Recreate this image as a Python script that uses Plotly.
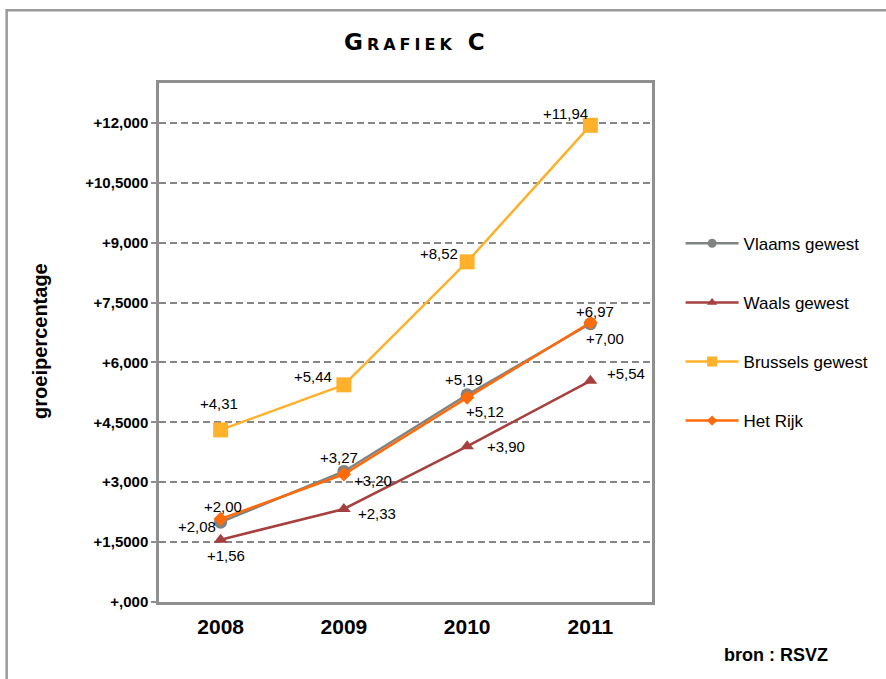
import plotly.graph_objects as go

years = ["2008", "2009", "2010", "2011"]
vlaams = [2.00, 3.27, 5.19, 6.97]
waals = [1.56, 2.33, 3.90, 5.54]
brussels = [4.31, 5.44, 8.52, 11.94]
rijk = [2.08, 3.20, 5.12, 7.00]

series_names = ["Vlaams gewest", "Waals gewest", "Brussels gewest", "Het Rijk"]
tick_vals = [0, 1.5, 3, 4.5, 6, 7.5, 9, 10.5, 12]
tick_text = ["+,000", "+1,5000", "+3,000", "+4,5000", "+6,000", "+7,5000", "+9,000", "+10,5000", "+12,000"]

FONT = "Arial, 'Liberation Sans', sans-serif"

styles = [
    dict(color="#7f8381", symbol="circle", size=13, legsize=9),
    dict(color="#a5403e", symbol="triangle-up", size=12, legsize=9),
    dict(color="#ffb12b", symbol="square", size=15, legsize=10),
    dict(color="#ff6a0a", symbol="diamond", size=11, legsize=8),
]
# label offsets (px) per point
offsets = [
    [(2, 16), (-5, 14), (-3, 15), (5, 12)],
    [(5, -16), (33, -5), (39, 0), (36, 7)],
    [(-2, 26), (-31, 8), (-28, 8), (-25, 12)],
    [(-24, -8), (29, -6), (18, -14), (15, -16)],
]

fig = go.Figure()
all_series = [vlaams, waals, brussels, rijk]
for name, vals, st in zip(series_names, all_series, styles):
    fig.add_trace(go.Scatter(
        x=years, y=vals, name=name, mode="lines+markers",
        line=dict(color=st["color"], width=2.5),
        marker=dict(color=st["color"], symbol=st["symbol"], size=st["size"]),
        legendgroup=name, showlegend=False,
    ))
# legend entries (smaller legend markers, as in the original)
for name, st in zip(series_names, styles):
    fig.add_trace(go.Scatter(
        x=[None], y=[None], name=name, mode="lines+markers",
        line=dict(color=st["color"], width=2.5),
        marker=dict(color=st["color"], symbol=st["symbol"], size=st["legsize"]),
        legendgroup=name, showlegend=True,
    ))

annotations = []
for vals, offs in zip(all_series, offsets):
    for i, (v, (dx, dy)) in enumerate(zip(vals, offs)):
        annotations.append(dict(
            x=i, y=v, xref="x", yref="y", showarrow=False,
            text=("+%.2f" % v).replace(".", ","),
            xshift=dx, yshift=dy,
            font=dict(family=FONT, size=15, color="#000"),
        ))

annotations += [
    dict(text='<span style="letter-spacing:4px">Grafiek C</span>', x=0.523, y=1.079,
         xref="paper", yref="paper", showarrow=False, xanchor="center", yanchor="middle",
         font=dict(family="'DejaVu Sans', sans-serif", size=23,
                   color="#000", weight="bold", variant="small-caps")),
    dict(text="groeipercentage", x=-0.2415, y=0.503, xref="paper", yref="paper",
         textangle=-90, showarrow=False, xanchor="center", yanchor="middle",
         font=dict(family=FONT, size=20, color="#000", weight="bold")),
    dict(text="bron : RSVZ", x=1.251, y=-0.102, xref="paper", yref="paper",
         showarrow=False, xanchor="center", yanchor="middle",
         font=dict(family=FONT, size=18, color="#000", weight="bold")),
]

shapes = [
    dict(type="rect", xref="paper", yref="paper", x0=-0.309, x1=1.6, y0=-0.2, y1=1.140,
         line=dict(color="#9a9a9a", width=2.5), layer="below"),
]

fig.update_layout(
    width=886, height=679,
    margin=dict(l=159, r=226, t=83, b=77),
    paper_bgcolor="white", plot_bgcolor="white",
    showlegend=True,
    legend=dict(x=1.058, y=0.725, xanchor="left", yanchor="top",
                font=dict(family=FONT, size=17, color="#000"),
                tracegroupgap=34, itemwidth=53, traceorder="grouped",
                bgcolor="rgba(0,0,0,0)"),
    annotations=annotations,
    shapes=shapes,
    xaxis=dict(type="category", range=[-0.5, 3.5], showgrid=False,
               showline=True, linecolor="#8f8f8f", linewidth=2.5, mirror=True,
               ticks="", ticklabelstandoff=4,
               tickfont=dict(family=FONT, size=21, color="#000", weight="bold"),
               zeroline=False),
    yaxis=dict(range=[0, 13], tickvals=tick_vals, ticktext=tick_text,
               showgrid=True, gridcolor="#878787", gridwidth=2, griddash="7px,4px",
               showline=True, linecolor="#8f8f8f", linewidth=2.5, mirror=True,
               ticks="outside", ticklen=5, tickwidth=2, tickcolor="#8f8f8f",
               tickfont=dict(family=FONT, size=15, color="#000", weight="bold"),
               zeroline=False),
)

fig.write_html("out.html", config={"displayModeBar": False},
               post_script="document.body.style.margin='0px';")
